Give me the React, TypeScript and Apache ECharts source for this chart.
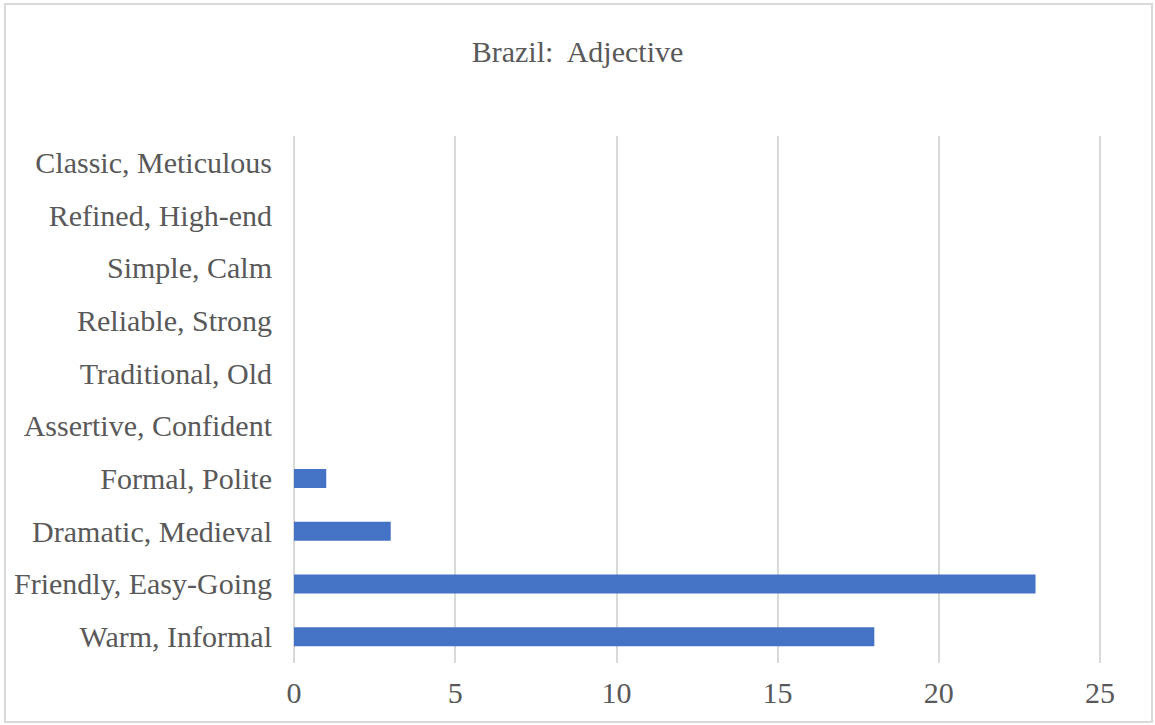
import React, { useEffect, useRef } from "react";
import * as echarts from "echarts";

const categories = [
  "Warm, Informal",
  "Friendly, Easy-Going",
  "Dramatic, Medieval",
  "Formal, Polite",
  "Assertive, Confident",
  "Traditional, Old",
  "Reliable, Strong",
  "Simple, Calm",
  "Refined, High-end",
  "Classic, Meticulous",
];
const values = [18, 23, 3, 1, 0, 0, 0, 0, 0, 0];
const titleText = "Brazil:  Adjective";

const FONT = "'Liberation Serif', 'Times New Roman', serif";
const TEXT = "#595959";
const GRID = "#d9d9d9";

export default function App() {
  const ref = useRef<HTMLDivElement>(null);
  useEffect(() => {
    if (!ref.current) return;
    const chart = echarts.init(ref.current, undefined, { renderer: "svg" });
    chart.setOption({
      animation: false,
      backgroundColor: "#ffffff",
      title: {
        text: titleText,
        left: "center",
        top: 31,
        textStyle: { fontFamily: FONT, fontSize: 30, fontWeight: "normal", color: TEXT },
      },
      graphic: [
        {
          type: "rect",
          shape: { x: 5, y: 4, width: 1147, height: 718 },
          style: { fill: "none", stroke: GRID, lineWidth: 2 },
          silent: true,
        },
      ],
      grid: { left: 294, right: 55, top: 136, bottom: 62, containLabel: false },
      xAxis: {
        type: "value",
        min: 0,
        max: 25,
        interval: 5,
        axisLine: { show: false },
        axisTick: { show: false },
        axisLabel: { fontFamily: FONT, fontSize: 30, color: TEXT, margin: 14 },
        splitLine: { show: true, lineStyle: { color: GRID, width: 2 } },
      },
      yAxis: {
        type: "category",
        data: categories,
        axisLine: { show: false },
        axisTick: { show: false },
        axisLabel: { fontFamily: FONT, fontSize: 30, color: TEXT, margin: 22 },
      },
      series: [
        {
          type: "bar",
          data: values,
          barWidth: 19,
          itemStyle: { color: "#4472C4" },
        },
      ],
    });
    return () => chart.dispose();
  }, []);
  return (
    <div
      ref={ref}
      style={{ position: "absolute", left: 0, top: 0, width: 1155, height: 725 }}
    />
  );
}
